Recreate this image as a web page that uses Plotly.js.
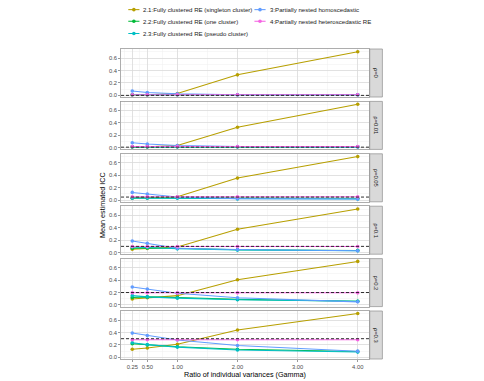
<!DOCTYPE html>
<html><head><meta charset="utf-8">
<script src="https://cdn.plot.ly/plotly-3.0.1.min.js"></script>
<style>html,body{margin:0;padding:0;background:#fff}#chart{width:484px;height:381px}</style>
</head><body><div id="chart"></div>
<script>
// ---- data ----
const gammaRatios = [0.25, 0.5, 1, 2, 4];
const xTickVals = [0.25, 0.5, 1, 2, 3, 4];
const xTickText = ['0.25', '0.50', '1.00', '2.00', '3.00', '4.00'];
const yTickVals = [0, 0.2, 0.4, 0.6];
const yTickText = ['0.0', '0.2', '0.4', '0.6'];
const rhoValues = [0, 0.01, 0.05, 0.1, 0.2, 0.3];
const rhoLabels = ['ρ=0', 'ρ=0.01', 'ρ=0.05', 'ρ=0.1', 'ρ=0.2', 'ρ=0.3'];

const seriesNames = [
  '2.1:Fully clustered RE (singleton cluster)',
  '2.2:Fully clustered RE (one cluster)',
  '2.3:Fully clustered RE (pseudo cluster)',
  '3:Partially nested homoscedastic',
  '4:Partially nested heteroscedastic RE'
];
const seriesColors = ['#B79F00', '#00BA38', '#00BFC4', '#619CFF', '#F564E3'];

// mean estimated ICC, one row per rho panel (top to bottom), columns = gammaRatios
const singletonICC = [
  [0.01, 0.01, 0.03, 0.33, 0.70],
  [0.015, 0.015, 0.035, 0.33, 0.70],
  [0.03, 0.035, 0.055, 0.355, 0.70],
  [0.055, 0.065, 0.09, 0.375, 0.70],
  [0.095, 0.115, 0.15, 0.405, 0.70],
  [0.13, 0.15, 0.21, 0.44, 0.705]
];
const oneClusterICC = [
  [0.01, 0.01, 0.01, 0.01, 0.01],
  [0.015, 0.015, 0.015, 0.015, 0.015],
  [0.04, 0.04, 0.04, 0.035, 0.03],
  [0.07, 0.075, 0.07, 0.045, 0.035],
  [0.12, 0.13, 0.12, 0.09, 0.06],
  [0.22, 0.2, 0.17, 0.13, 0.095]
];
const pseudoClusterICC = [
  [0.01, 0.01, 0.01, 0.01, 0.01],
  [0.015, 0.015, 0.015, 0.015, 0.015],
  [0.03, 0.03, 0.03, 0.02, 0.02],
  [0.09, 0.08, 0.06, 0.04, 0.03],
  [0.15, 0.13, 0.11, 0.085, 0.06],
  [0.235, 0.205, 0.165, 0.12, 0.085]
];
const homoscedasticICC = [
  [0.07, 0.045, 0.025, 0.01, 0.01],
  [0.08, 0.06, 0.035, 0.02, 0.015],
  [0.125, 0.098, 0.05, 0.025, 0.02],
  [0.185, 0.148, 0.068, 0.05, 0.03],
  [0.29, 0.255, 0.19, 0.115, 0.05],
  [0.39, 0.35, 0.28, 0.19, 0.1]
];
const heteroscedasticICC = [
  [0.01, 0.01, 0.01, 0.01, 0.01],
  [0.02, 0.02, 0.02, 0.02, 0.02],
  [0.055, 0.055, 0.055, 0.055, 0.055],
  [0.098, 0.098, 0.098, 0.098, 0.098],
  [0.195, 0.195, 0.195, 0.195, 0.195],
  [0.283, 0.283, 0.283, 0.283, 0.283]
];
const seriesValues = [singletonICC, oneClusterICC, pseudoClusterICC, homoscedasticICC, heteroscedasticICC];

// ---- layout helpers ----
const FONT = 'Liberation Sans, Arial, sans-serif';
const nP = rhoValues.length;
const panelH = 48 / 310, pitch = 52.4 / 310;
const xRange = [0.0625, 4.1875];
const yRange = [-0.026, 0.745];
const mid = a => a.slice(0, -1).map((v, i) => (v + a[i + 1]) / 2);
const xMinor = [xTickVals[0] - (xTickVals[1] - xTickVals[0]) / 2].concat(mid(xTickVals));
const yMinor = mid(yTickVals).concat([yTickVals[yTickVals.length - 1] + 0.1]);

const traces = [];
const layout = {
  width: 484, height: 381,
  margin: {l: 121, r: 115, t: 49, b: 22},
  paper_bgcolor: '#fff', plot_bgcolor: '#fff',
  showlegend: false,
  font: {family: FONT, size: 6, color: '#4D4D4D'},
  shapes: [], annotations: []
};

for (let p = 0; p < nP; p++) {
  const sfx = p === 0 ? '' : String(p + 1);
  const top = 1 - p * pitch;
  const isBottom = p === nP - 1;
  layout['xaxis' + sfx] = {
    anchor: 'y' + sfx, domain: [0, 1], range: xRange,
    tickvals: xTickVals, ticktext: xTickText,
    showticklabels: isBottom, ticks: isBottom ? 'outside' : '', ticklen: 2, tickwidth: 0.6, tickcolor: '#555',
    tickfont: {size: 5.8, color: '#4D4D4D'},
    showgrid: true, gridcolor: '#D9D9D9', gridwidth: 0.8,
    minor: {tickvals: xMinor, showgrid: true, gridcolor: '#EFEFEF', gridwidth: 0.5, ticks: ''},
    zeroline: false, showline: true, mirror: true, linecolor: '#999', linewidth: 0.8
  };
  layout['yaxis' + sfx] = {
    anchor: 'x' + sfx, domain: [top - panelH, top], range: yRange,
    tickvals: yTickVals, ticktext: yTickText,
    ticks: 'outside', ticklen: 2, tickwidth: 0.6, tickcolor: '#555',
    tickfont: {size: 5.8, color: '#4D4D4D'},
    showgrid: true, gridcolor: '#D9D9D9', gridwidth: 0.8,
    minor: {tickvals: yMinor, showgrid: true, gridcolor: '#EFEFEF', gridwidth: 0.5, ticks: ''},
    zeroline: false, showline: true, mirror: true, linecolor: '#999', linewidth: 0.8
  };
  seriesNames.forEach((name, s) => {
    traces.push({
      type: 'scatter', mode: 'lines+markers', name: name,
      x: gammaRatios, y: seriesValues[s][p],
      xaxis: 'x' + sfx, yaxis: 'y' + sfx,
      line: {color: seriesColors[s], width: 1.05},
      marker: {color: seriesColors[s], size: 3.6},
      cliponaxis: false, hoverinfo: 'skip'
    });
  });
  // true ICC reference line
  layout.shapes.push({
    type: 'line', xref: 'x' + sfx + ' domain', yref: 'y' + sfx,
    x0: 0, x1: 1, y0: rhoValues[p], y1: rhoValues[p],
    line: {color: '#1A1A1A', width: 0.9, dash: '3px,2px'}, layer: 'above'
  });
  // facet strip
  layout.shapes.push({
    type: 'rect', xref: 'paper', yref: 'y' + sfx + ' domain',
    x0: 1.003, x1: 1.054, y0: 0, y1: 1,
    fillcolor: '#D9D9D9', line: {color: '#999', width: 0.8}, layer: 'below'
  });
  layout.annotations.push({
    xref: 'paper', yref: 'y' + sfx + ' domain', x: 1.0285, y: 0.5,
    text: rhoLabels[p], textangle: 90, showarrow: false,
    xanchor: 'center', yanchor: 'middle',
    font: {family: FONT, size: 5.8, color: '#1A1A1A'}
  });
}

// axis titles
layout.annotations.push({
  xref: 'paper', yref: 'paper', x: 0.5, y: -0.05, text: 'Ratio of individual variances (Gamma)',
  showarrow: false, xanchor: 'center', yanchor: 'middle', font: {family: FONT, size: 7.2, color: '#000'}
});
layout.annotations.push({
  xref: 'paper', yref: 'paper', x: -0.0726, y: 0.497, text: 'Mean estimated ICC', textangle: -90,
  showarrow: false, xanchor: 'center', yanchor: 'middle', font: {family: FONT, size: 7.2, color: '#000'}
});

// legend (3 rows x 2 columns, filled column-wise like ggplot)
const legRowsY = [1.127, 1.0895, 1.05];
const legColX = [0.0294, 0.538];
const keyLen = 0.045, textGap = 0.008;
seriesNames.forEach((name, s) => {
  const col = s < 3 ? 0 : 1, row = s < 3 ? s : s - 3;
  const x0 = legColX[col], y = legRowsY[row];
  layout.shapes.push({
    type: 'line', xref: 'paper', yref: 'paper', x0: x0, x1: x0 + keyLen, y0: y, y1: y,
    line: {color: seriesColors[s], width: 1.05}
  });
  layout.shapes.push({
    type: 'circle', xref: 'paper', yref: 'paper', xsizemode: 'pixel', ysizemode: 'pixel',
    xanchor: x0 + keyLen / 2, yanchor: y, x0: -1.8, x1: 1.8, y0: -1.8, y1: 1.8,
    fillcolor: seriesColors[s], line: {width: 0}
  });
  layout.annotations.push({
    xref: 'paper', yref: 'paper', x: x0 + keyLen + textGap, y: y, text: name,
    showarrow: false, xanchor: 'left', yanchor: 'middle',
    font: {family: FONT, size: 6.1, color: '#1A1A1A'}
  });
});

Plotly.newPlot('chart', traces, layout, {staticPlot: true, displayModeBar: false});
</script>
</body></html>
